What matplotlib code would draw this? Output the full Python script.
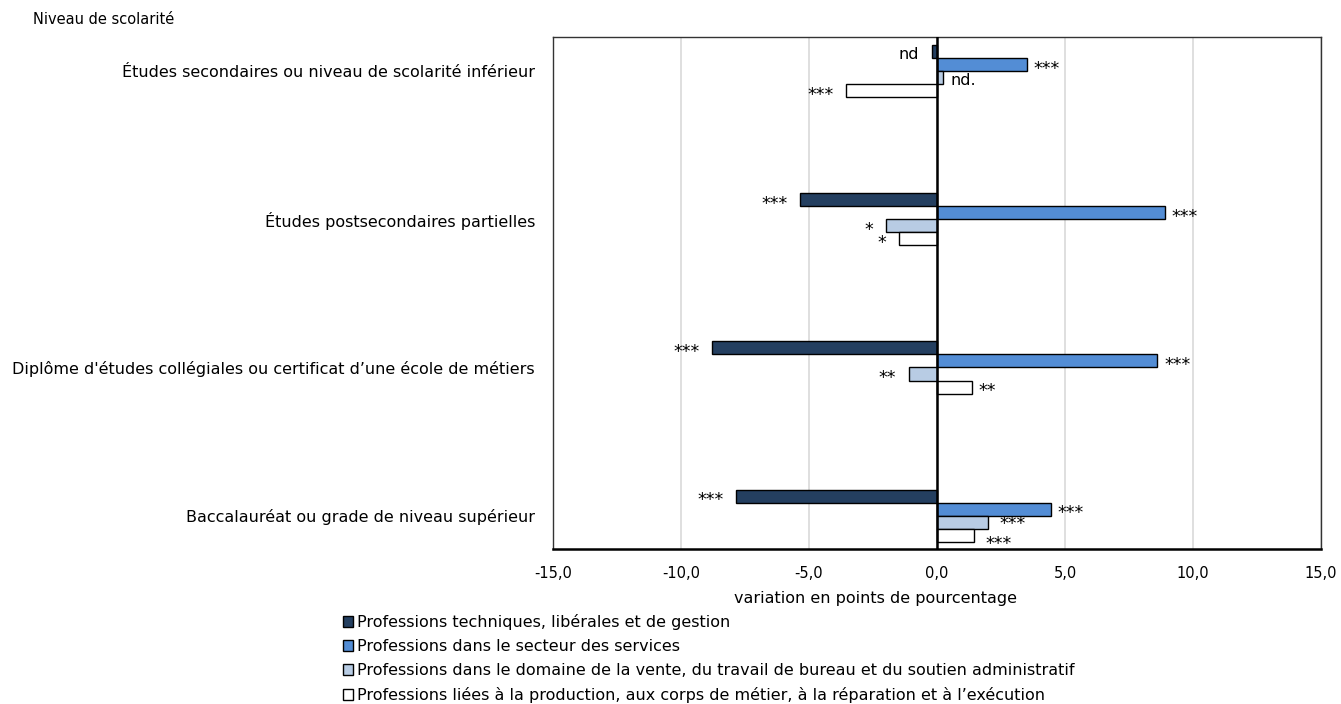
import matplotlib
matplotlib.use("Agg")
import matplotlib.pyplot as plt
from matplotlib.patches import Patch
from matplotlib.ticker import FuncFormatter, MultipleLocator
import numpy as np

plt.rcParams['font.family'] = ['DejaVu Sans']

categories = [
    "Études secondaires ou niveau de scolarité inférieur",
    "Études postsecondaires partielles",
    "Diplôme d'études collégiales ou certificat d\u2019une école de métiers",
    "Baccalauréat ou grade de niveau supérieur",
]
series_names = [
    "Professions techniques, libérales et de gestion",
    "Professions dans le secteur des services",
    "Professions dans le domaine de la vente, du travail de bureau et du soutien administratif",
    "Professions liées à la production, aux corps de métier, à la réparation et à l\u2019exécution",
]
technical = [-0.2, -5.35, -8.8, -7.85]
services = [3.5, 8.9, 8.6, 4.45]
sales = [0.25, -2.0, -1.1, 2.0]
production = [-3.55, -1.5, 1.35, 1.45]

technical_labels = ["nd", "***", "***", "***"]
services_labels = ["***", "***", "***", "***"]
sales_labels = ["nd.", "*", "**", "***"]
production_labels = ["***", "*", "**", "***"]

colors = ["#243F60", "#538DD5", "#B8CCE4", "#FFFFFF"]

series = [technical, services, sales, production]
labels = [technical_labels, services_labels, sales_labels, production_labels]

# label nudges (series index, category index) -> (dx, dy) in points
nudges = {(2, 3): (8, -1), (3, 3): (8, -6)}

fig = plt.figure(figsize=(13.41, 7.04), dpi=100)
ax = fig.add_axes([553 / 1341, 1 - 549 / 704, (1321 - 553) / 1341, (549 - 37) / 704])

fs = 11.5
fs_small = 10.5
fs_star = 12.5
y = np.arange(len(categories))
bar_h = 0.088
offsets = (np.arange(4) - 1.5) * bar_h

for s, (vals, labs, col) in enumerate(zip(series, labels, colors)):
    pos = y + offsets[s]
    ax.barh(pos, vals, height=bar_h, color=col, edgecolor="black", linewidth=1.0, zorder=3)
    for c, (yy, v, lab) in enumerate(zip(pos, vals, labs)):
        size = fs_star if lab.startswith("*") else fs
        dy = -3 if lab.startswith("*") else -2
        dx = -9 if v < 0 else 5
        if (s, c) in nudges:
            dx, dy = nudges[(s, c)]
        ax.annotate(lab, (v, yy), xytext=(dx, dy), textcoords="offset points",
                    ha="right" if v < 0 else "left", va="center", fontsize=size, zorder=4)

ax.set_xlim(-15, 15)
ax.set_ylim(3.225, -0.23)
ax.xaxis.set_major_locator(MultipleLocator(5))
ax.xaxis.set_major_formatter(FuncFormatter(lambda v, p: f"{v:.1f}".replace(".", ",")))
ax.grid(axis="x", color="#D9D9D9", linewidth=1.2, zorder=0)
ax.axvline(0, color="black", linewidth=1.8, zorder=5)

ax.set_yticks(y)
ax.set_yticklabels(categories, fontsize=fs)
ax.tick_params(axis="y", length=0, pad=13)
ax.tick_params(axis="x", length=0, pad=12, labelsize=fs_small)

for side in ["top", "right", "left"]:
    ax.spines[side].set_color("#333333")
    ax.spines[side].set_linewidth(1.0)
ax.spines["bottom"].set_color("black")
ax.spines["bottom"].set_linewidth(1.8)

fig.text(876 / 1341, 1 - 599 / 704, "variation en points de pourcentage",
         ha="center", va="center", fontsize=fs)
fig.text(33 / 1341, 1 - 20 / 704, "Niveau de scolarité", ha="left", va="center", fontsize=fs_small)

handles = [Patch(facecolor=c, edgecolor="black", linewidth=1.0) for c in colors]
fig.legend(handles, series_names, loc="upper left", bbox_to_anchor=(343 / 1341, 1 - 614 / 704),
           frameon=False, fontsize=fs, handlelength=0.65, handleheight=0.65,
           handletextpad=0.2, labelspacing=0.56, borderpad=0, borderaxespad=0)

fig.savefig("out.png", dpi=100, facecolor="white")
